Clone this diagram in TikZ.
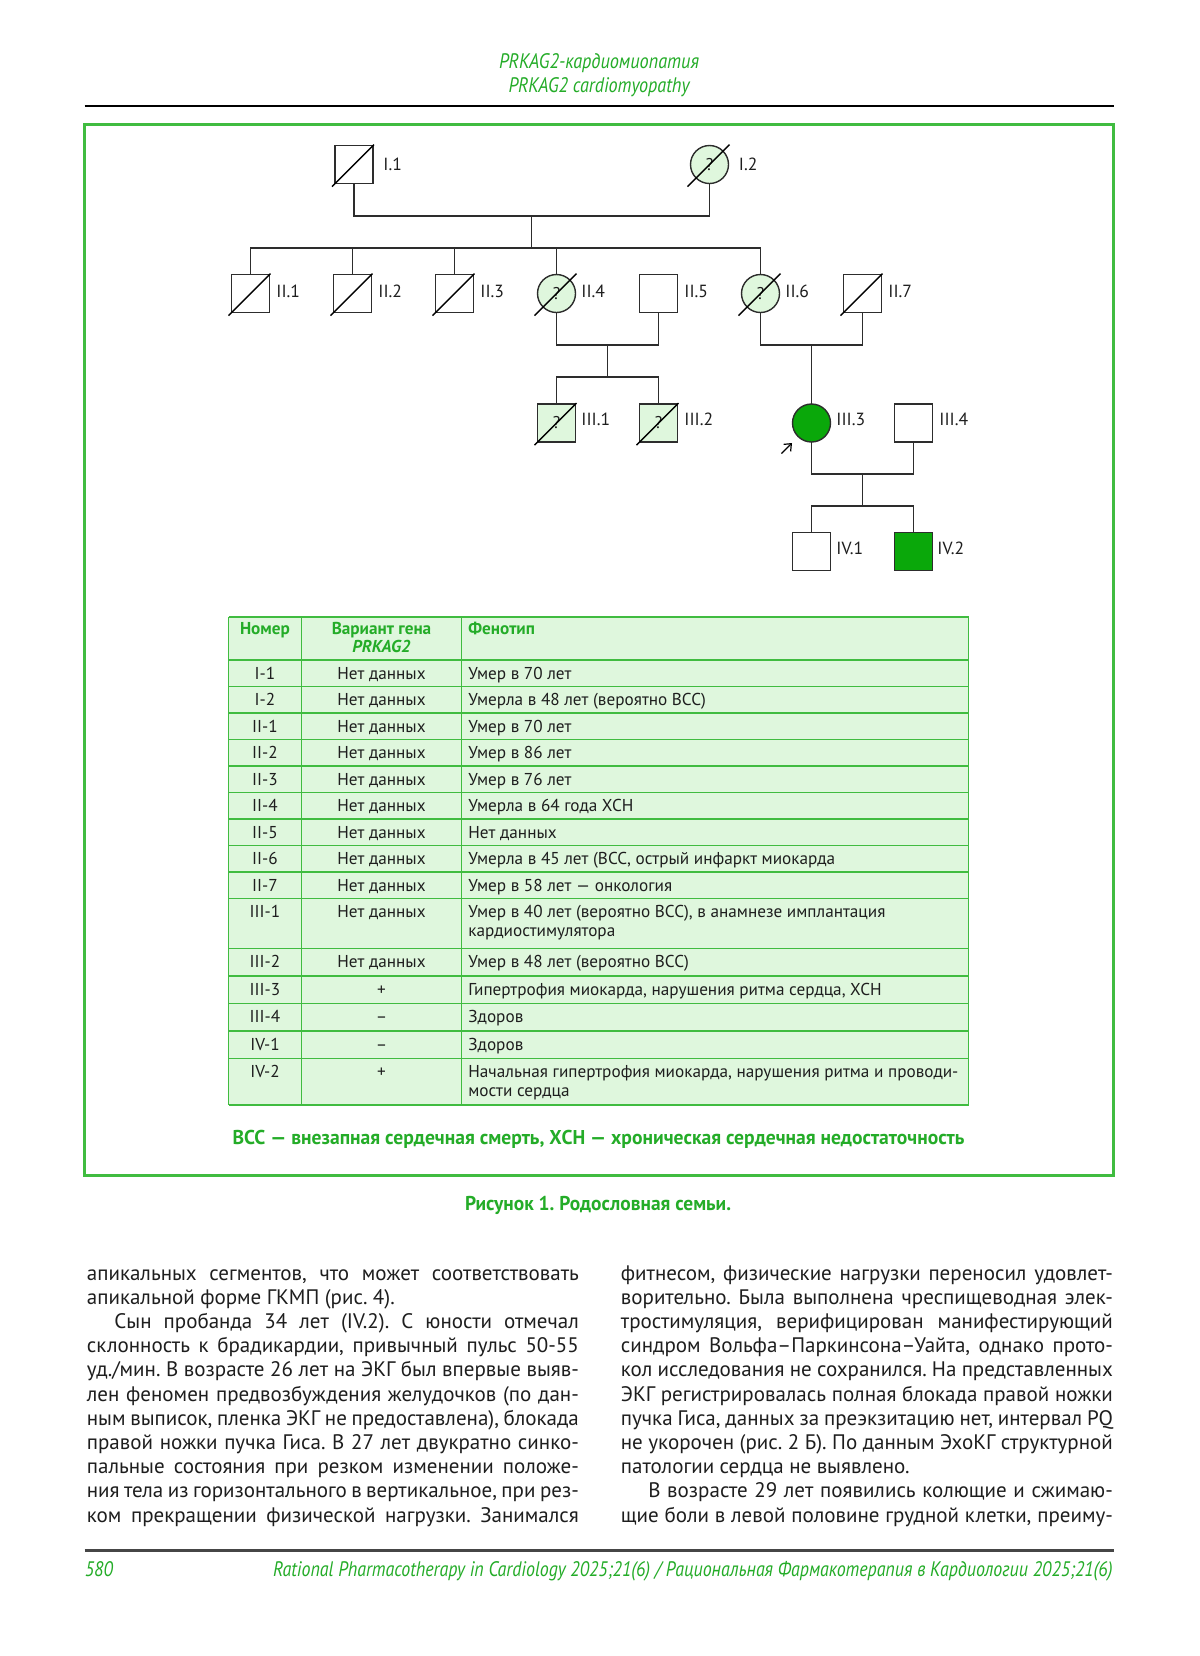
\documentclass[tikz,border=0pt]{standalone}
\usepackage{fontspec}
\setmainfont{PT Sans}
\usepackage{graphicx}
\usetikzlibrary{arrows.meta}
\definecolor{tgreen}{RGB}{36,172,40}
\definecolor{fgreen}{RGB}{64,188,64}
\definecolor{lgreen}{RGB}{223,247,221}
\definecolor{sgreen}{RGB}{10,168,10}
\definecolor{ink}{RGB}{30,30,30}
\definecolor{lineink}{RGB}{45,45,45}
\definecolor{rulegray}{RGB}{70,70,70}
\frenchspacing
\newcommand\bodyfont{\fontsize{10.5}{12}\selectfont\frenchspacing\spaceskip=0.26em plus 0.8em minus 0.17em\relax}
\newcommand\tabfont{\fontsize{8.6}{10}\selectfont}
\newcommand\jl[3]{\node[btext] (#1) at (#2) {\makebox[246pt][s]{#3}};}
\newcommand\jli[3]{\node[btext] (#1) at (#2) {\makebox[232.25pt][s]{#3}};}
\newcommand\nl[3]{\node[btext] (#1) at (#2) {#3};}
\newcommand\trow[5]{%
  \node[tt, anchor=base] (#1a) at (265,#2+19) {#3};
  \node[tt, anchor=base] (#1b) at (381.5,#2+19) {#4};
  \node[tt, anchor=base west] (#1c) at (468,#2+19) {#5};}
\newcommand\deadmark[1]{\draw[slashln] ([shift={(-22,22)}]#1.center) -- ([shift={(20,-20)}]#1.center);}
\begin{document}
\begin{tikzpicture}[x=0.5pt,y=-0.5pt,
  sym/.style={draw=lineink, line width=0.7pt, minimum size=19pt, inner sep=0pt, outer sep=0pt, font=\fontsize{8.5}{9}\selectfont, text=ink},
  male/.style={sym, rectangle},
  female/.style={sym, circle},
  unk/.style={fill=lgreen},
  aff/.style={fill=sgreen},
  pline/.style={draw=lineink, line width=0.9pt},
  slashln/.style={draw=black, line width=0.7pt},
  lab/.style={anchor=west, inner sep=0pt, font=\fontsize{8.8}{10}\selectfont, text=ink},
  tline/.style={draw=fgreen, line width=0.9pt},
  tt/.style={inner sep=0pt, font=\tabfont, text=ink},
  th/.style={inner sep=0pt, font=\tabfont\bfseries, text=tgreen},
  btext/.style={anchor=base west, inner sep=0pt, font=\bodyfont, text=ink},
  hdr/.style={inner sep=0pt, font=\fontsize{10.5}{12}\selectfont\itshape, text=tgreen}
]
\useasboundingbox[fill=white] (0,0) rectangle (1200,1656);

% running header
\node[hdr, anchor=base] (h1) at (599,68) {\resizebox{100pt}{\height}{PRKAG2-кардиомиопатия}};
\node[hdr, anchor=base] (h2) at (599,92) {\resizebox{90.5pt}{\height}{PRKAG2 cardiomyopathy}};
\draw[line width=1pt, black] (84.5,106) -- (1114,106);

% figure frame
\draw[fgreen, line width=1.25pt] (84.5,124.6) rectangle (1113.5,1175.7);

% ---------- pedigree ----------
% generation I
\node[male] (I1) at (354,164.5) {};
\node[female, unk] (I2) at (709.5,164.5) {?};
% generation II
\node[male] (II1) at (250.5,293.5) {};
\node[male] (II2) at (352.5,293.5) {};
\node[male] (II3) at (454.5,293.5) {};
\node[female, unk] (II4) at (556.5,293.5) {?};
\node[male] (II5) at (658.5,293.5) {};
\node[female, unk] (II6) at (760.5,293.5) {?};
\node[male] (II7) at (862.5,293.5) {};
% generation III
\node[male, unk] (III1) at (556.5,423) {?};
\node[male, unk] (III2) at (658.5,423) {?};
\node[female, aff] (III3) at (811.5,423) {};
\node[male] (III4) at (913.5,423) {};
% generation IV
\node[male] (IV1) at (811.5,551.7) {};
\node[male, aff] (IV2) at (913.5,551.7) {};

% deceased slashes
\deadmark{I1}\deadmark{I2}
\deadmark{II1}\deadmark{II2}\deadmark{II3}\deadmark{II4}\deadmark{II6}\deadmark{II7}
\deadmark{III1}\deadmark{III2}

% labels
\node[lab] (lI1) at (383,164.5) {I.1};
\node[lab] (lI2) at (738.5,164.5) {I.2};
\node[lab] (lII1) at (276,291.5) {II.1};
\node[lab] (lII2) at (378,291.5) {II.2};
\node[lab] (lII3) at (480,291.5) {II.3};
\node[lab] (lII4) at (581,291.5) {II.4};
\node[lab] (lII5) at (684,291.5) {II.5};
\node[lab] (lII6) at (785,291.5) {II.6};
\node[lab] (lII7) at (888,291.5) {II.7};
\node[lab] (lIII1) at (581,419) {III.1};
\node[lab] (lIII2) at (684,419) {III.2};
\node[lab] (lIII3) at (836,419) {III.3};
\node[lab] (lIII4) at (939,419) {III.4};
\node[lab] (lIV1) at (836,548) {IV.1};
\node[lab] (lIV2) at (937,548) {IV.2};

% connectors
\coordinate (mI) at (531.5,216);
\coordinate (sII) at (531.5,248);
\draw[pline] (I1.south) |- (mI) -| (I2.south);
\draw[pline] (mI) -- (sII);
\draw[pline] (II1.north) |- (sII) -| (II6.north);
\foreach \n in {II2,II3,II4} \draw[pline] (\n.north) -- (\n.north |- sII);
\coordinate (m45) at (607.5,345);
\coordinate (s3) at (607.5,377);
\draw[pline] (II4.south) |- (m45) -| (II5.south);
\draw[pline] (m45) -- (s3);
\draw[pline] (III1.north) |- (s3) -| (III2.north);
\coordinate (m67) at (811.5,345);
\draw[pline] (II6.south) |- (m67) -| (II7.south);
\draw[pline] (m67) -- (III3.north);
\coordinate (m34) at (862.5,474);
\coordinate (s4) at (862.5,506);
\draw[pline] (III3.south) |- (m34) -| (III4.south);
\draw[pline] (m34) -- (s4);
\draw[pline] (IV1.north) |- (s4) -| (IV2.north);
% proband arrow
\coordinate (pa) at (781.5,453.5);
\coordinate (pb) at (792,443);
\draw[line width=0.6pt, black, -{Straight Barb[length=3pt,width=5pt]}] (pa) -- (pb);

% ---------- table ----------
\fill[lgreen] (228.5,617) rectangle (968.5,1105);
\foreach \y in {617,660,686.5,713,739.5,766,792.5,819,845.5,872,898.5,948.5,976,1003.5,1031,1058.5,1105}
  \draw[tline] (228.5,\y) -- (968.5,\y);
\foreach \x in {228.5,301.5,461.5,968.5}
  \draw[tline] (\x,617) -- (\x,1105);
\node[th, anchor=base] (thn) at (265,634) {Номер};
\node[th, anchor=base] (thv) at (381.5,634) {Вариант гена};
\node[th, anchor=base] (thp) at (381.5,652.5) {\itshape PRKAG2};
\node[th, anchor=base west] (thf) at (468,634) {Фенотип};
\trow{r1}{660}{I-1}{Нет данных}{Умер в 70 лет}
\trow{r2}{686.5}{I-2}{Нет данных}{Умерла в 48 лет (вероятно ВСС)}
\trow{r3}{713}{II-1}{Нет данных}{Умер в 70 лет}
\trow{r4}{739.5}{II-2}{Нет данных}{Умер в 86 лет}
\trow{r5}{766}{II-3}{Нет данных}{Умер в 76 лет}
\trow{r6}{792.5}{II-4}{Нет данных}{Умерла в 64 года ХСН}
\trow{r7}{819}{II-5}{Нет данных}{Нет данных}
\trow{r8}{845.5}{II-6}{Нет данных}{Умерла в 45 лет (ВСС, острый инфаркт миокарда}
\trow{r9}{872}{II-7}{Нет данных}{Умер в 58 лет — онкология}
\trow{r10}{898.5}{III-1}{Нет данных}{Умер в 40 лет (вероятно ВСС), в анамнезе имплантация}
\node[tt, anchor=base west] (r10d) at (468,936.5) {кардиостимулятора};
\trow{r11}{948.5}{III-2}{Нет данных}{Умер в 48 лет (вероятно ВСС)}
\trow{r12}{976}{III-3}{+}{Гипертрофия миокарда, нарушения ритма сердца, ХСН}
\trow{r13}{1003.5}{III-4}{–}{Здоров}
\trow{r14}{1031}{IV-1}{–}{Здоров}
\trow{r15}{1058.5}{IV-2}{+}{Начальная гипертрофия миокарда, нарушения ритма и проводи-}
\node[tt, anchor=base west] (r15d) at (468,1096.5) {мости сердца};

% legend and caption
\node[inner sep=0pt, anchor=base, font=\fontsize{10}{12}\selectfont\bfseries, text=tgreen] (legend) at (598.5,1144)
  {\resizebox{366pt}{\height}{ВСС — внезапная сердечная смерть, ХСН — хроническая сердечная недостаточность}};
\node[inner sep=0pt, anchor=base, font=\fontsize{10}{12}\selectfont\bfseries, text=tgreen] (caption) at (598,1210)
  {\resizebox{133pt}{\height}{Рисунок 1. Родословная семьи.}};

% ---------- body text ----------
\jl{L1}{86.5,1280}{апикальных сегментов, что может соответствовать}
\nl{L2}{86.5,1304.2}{апикальной форме ГКМП (рис. 4).}
\jli{L3}{114,1328.4}{Сын пробанда 34 лет (IV.2). С юности отмечал}
\jl{L4}{86.5,1352.6}{склонность к брадикардии, привычный пульс 50-55}
\jl{L5}{86.5,1376.8}{уд./мин. В возрасте 26 лет на ЭКГ был впервые выяв-}
\jl{L6}{86.5,1401}{лен феномен предвозбуждения желудочков (по дан-}
\jl{L7}{86.5,1425.2}{ным выписок, пленка ЭКГ не предоставлена), блокада}
\jl{L8}{86.5,1449.4}{правой ножки пучка Гиса. В 27 лет двукратно синко-}
\jl{L9}{86.5,1473.6}{пальные состояния при резком изменении положе-}
\jl{L10}{86.5,1497.8}{ния тела из горизонтального в вертикальное, при рез-}
\jl{L11}{86.5,1522}{ком прекращении физической нагрузки. Занимался}

\jl{R1}{620.5,1280}{фитнесом, физические нагрузки переносил удовлет-}
\jl{R2}{620.5,1304.2}{ворительно. Была выполнена чреспищеводная элек-}
\jl{R3}{620.5,1328.4}{тростимуляция, верифицирован манифестирующий}
\jl{R4}{620.5,1352.6}{синдром Вольфа–Паркинсона–Уайта, однако прото-}
\jl{R5}{620.5,1376.8}{кол исследования не сохранился. На представленных}
\jl{R6}{620.5,1401}{ЭКГ регистрировалась полная блокада правой ножки}
\jl{R7}{620.5,1425.2}{пучка Гиса, данных за преэкзитацию нет, интервал PQ}
\jl{R8}{620.5,1449.4}{не укорочен (рис. 2 Б). По данным ЭхоКГ структурной}
\nl{R9}{620.5,1473.6}{патологии сердца не выявлено.}
\jli{R10}{648,1497.8}{В возрасте 29 лет появились колющие и сжимаю-}
\jl{R11}{620.5,1522}{щие боли в левой половине грудной клетки, преиму-}

% footer
\draw[line width=1.5pt, rulegray] (84.5,1550.5) -- (1114,1550.5);
\node[hdr, anchor=base west] (pg) at (84.5,1576) {\resizebox{14pt}{\height}{580}};
\node[hdr, anchor=base east] (jr) at (1113,1576)
  {\resizebox{419.7pt}{\height}{Rational Pharmacotherapy in Cardiology 2025;21(6) / Рациональная Фармакотерапия в Кардиологии 2025;21(6)}};
\end{tikzpicture}
\end{document}
